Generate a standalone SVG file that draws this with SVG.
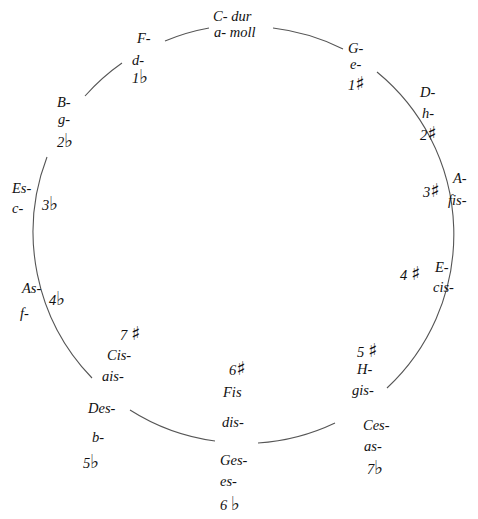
<svg xmlns="http://www.w3.org/2000/svg" width="478" height="519" viewBox="0 0 478 519">
<style>
text{font-family:"Liberation Serif","DejaVu Serif",serif;font-style:italic;font-size:14.5px;fill:#111}
.acc{font-family:"DejaVu Sans",sans-serif;font-style:normal;font-size:19px}
.arc{fill:none;stroke:#555;stroke-width:1.1}
</style>
<rect width="478" height="519" fill="#ffffff"/>
<g id="connectors">
<path class="arc" d="M165,41 A210,210 0 0 1 209,28"/>
<path class="arc" d="M273,28 A210,210 0 0 1 343,49"/>
<path class="arc" d="M377,72 A210,210 0 0 1 387,388"/>
<path class="arc" d="M335,423 A210,210 0 0 1 258,443"/>
<path class="arc" d="M215,441 A210,210 0 0 1 130,410"/>
<path class="arc" d="M92,378 A210,210 0 0 1 47,157"/>
<path class="arc" d="M85,96 A210,210 0 0 1 122,63"/>
</g>
<g id="node-C"><text x="213" y="21">C- dur</text><text x="214" y="37">a- moll</text></g>
<g id="node-G"><text x="348" y="53">G-</text><text x="350" y="69">e-</text><text x="348" y="90">1<tspan class="acc">♯</tspan></text></g>
<g id="node-D"><text x="420" y="97">D-</text><text x="422" y="118">h-</text><text x="420" y="140">2<tspan class="acc">♯</tspan></text></g>
<g id="node-A"><text x="453" y="183">A-</text><text x="448" y="205">fis-</text><text x="423" y="197">3<tspan class="acc">♯</tspan></text></g>
<g id="node-E"><text x="435" y="272">E-</text><text x="433" y="292">cis-</text><text x="400" y="280">4 <tspan class="acc">♯</tspan></text></g>
<g id="node-H"><text x="357" y="357">5 <tspan class="acc">♯</tspan></text><text x="357" y="374">H-</text><text x="352" y="395">gis-</text></g>
<g id="node-Ces"><text x="363" y="430">Ces-</text><text x="364" y="451">as-</text><text x="367" y="474">7<tspan class="acc">♭</tspan></text></g>
<g id="node-Fis"><text x="229" y="375">6<tspan class="acc">♯</tspan></text><text x="223" y="397">Fis</text><text x="222" y="427">dis-</text></g>
<g id="node-Ges"><text x="220" y="465">Ges-</text><text x="220" y="486">es-</text><text x="220" y="510">6 <tspan class="acc">♭</tspan></text></g>
<g id="node-Cis"><text x="120" y="340">7 <tspan class="acc">♯</tspan></text><text x="107" y="360">Cis-</text><text x="102" y="381">ais-</text></g>
<g id="node-Des"><text x="88" y="413">Des-</text><text x="92" y="442">b-</text><text x="83" y="468">5<tspan class="acc">♭</tspan></text></g>
<g id="node-As"><text x="22" y="293">As-</text><text x="20" y="318">f-</text><text x="49" y="305">4<tspan class="acc">♭</tspan></text></g>
<g id="node-Es"><text x="12" y="193">Es-</text><text x="12" y="213">c-</text><text x="42" y="210">3<tspan class="acc">♭</tspan></text></g>
<g id="node-B"><text x="57" y="107">B-</text><text x="58" y="124">g-</text><text x="57" y="147">2<tspan class="acc">♭</tspan></text></g>
<g id="node-F"><text x="137" y="43">F-</text><text x="132" y="65">d-</text><text x="132" y="83">1<tspan class="acc">♭</tspan></text></g>
</svg>
